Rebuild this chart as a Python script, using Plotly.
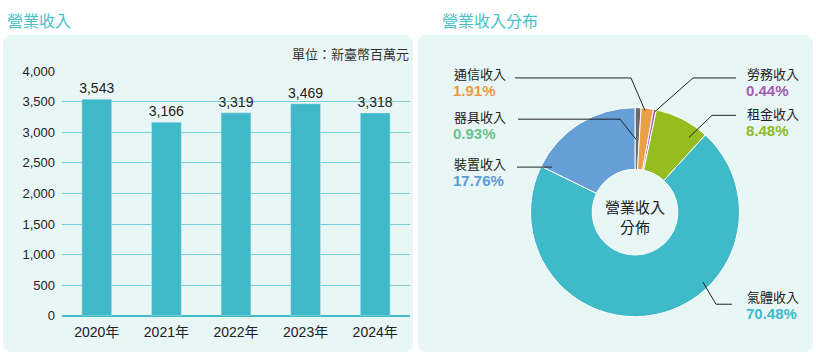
import plotly.graph_objects as go

W, H = 816, 364

# ---- data ----
years = ["2020年", "2021年", "2022年", "2023年", "2024年"]
revenue = [3543, 3166, 3319, 3469, 3318]
y_ticks = [0, 500, 1000, 1500, 2000, 2500, 3000, 3500, 4000]

seg_names = ["器具收入", "通信收入", "勞務收入", "租金收入", "氣體收入", "裝置收入"]
seg_pct = [0.93, 1.91, 0.44, 8.48, 70.48, 17.76]
seg_colors = ["#6b6b6b", "#e9a046", "#a45cb2", "#95bd1f", "#3fbac8", "#659fd5"]
pct_colors = ["#6cc18f", "#e89a40", "#a25bb0", "#8dbb1f", "#3dbcca", "#5a9ad6"]

FONT = "Liberation Sans, Noto Sans CJK TC, sans-serif"
CJK = "Noto Sans CJK TC, Liberation Sans, sans-serif"


def X(px):
    return px / W


def Y(py):
    return 1 - py / H


def rounded(x0, y0, x1, y1, r=10):
    rx, ry = r / W, r / H
    a, b, c, d = X(x0), Y(y1), X(x1), Y(y0)  # left, bottom, right, top
    return (f"M {a+rx},{d} L {c-rx},{d} Q {c},{d} {c},{d-ry} "
            f"L {c},{b+ry} Q {c},{b} {c-rx},{b} L {a+rx},{b} "
            f"Q {a},{b} {a},{b+ry} L {a},{d-ry} Q {a},{d} {a+rx},{d} Z")


fig = go.Figure()

fig.add_trace(go.Bar(
    x=years, y=revenue, marker_color="#3fb9c7", width=0.43,
    text=[f"{v:,}" for v in revenue], textposition="outside",
    constraintext="none",
    textfont=dict(size=14, color="#222", family=FONT), cliponaxis=False,
    xaxis="x", yaxis="y", showlegend=False, hoverinfo="skip",
))

fig.add_trace(go.Pie(
    labels=seg_names, values=seg_pct, sort=False, direction="clockwise",
    rotation=0, hole=0.41, textinfo="none", showlegend=False,
    marker=dict(colors=seg_colors, line=dict(color="white", width=1)),
    domain=dict(x=[X(526), X(744)], y=[Y(323), Y(105)]),
    hoverinfo="label+percent",
))

shapes = [
    dict(type="path", path=rounded(3, 29, 413, 360), xref="paper", yref="paper",
         fillcolor="#e8f6f6", line_width=0, layer="below"),
    dict(type="path", path=rounded(418, 29, 813, 360), xref="paper", yref="paper",
         fillcolor="#e8f6f6", line_width=0, layer="below"),
]

# leader lines (px polylines), one per segment label
leaders = {
    "器具收入": [(518, 117), (620, 117), (636, 138)],
    "通信收入": [(515, 74), (631, 74), (645, 108)],
    "勞務收入": [(736, 74), (693, 74), (655, 109)],
    "租金收入": [(736, 113), (712, 113), (689, 136)],
    "氣體收入": [(732, 310), (716, 310), (703, 287)],
    "裝置收入": [(517, 167), (552, 167)],
}
for name, pts in leaders.items():
    for (x0, y0), (x1, y1) in zip(pts[:-1], pts[1:]):
        shapes.append(dict(type="line", xref="paper", yref="paper",
                           x0=X(x0), y0=Y(y0), x1=X(x1), y1=Y(y1),
                           line=dict(color="#222", width=1)))

# label positions (px, name line centre)
label_pos = {
    "器具收入": (452, 114),
    "通信收入": (452, 69),
    "勞務收入": (745, 69),
    "租金收入": (745, 111),
    "氣體收入": (745, 302),
    "裝置收入": (452, 163),
}

ann = [
    dict(text="營業收入", x=X(5), y=Y(14), xref="paper", yref="paper",
         xanchor="left", yanchor="middle", showarrow=False,
         font=dict(size=16, color="#47bfc8", family=CJK)),
    dict(text="營業收入分布", x=X(440), y=Y(14), xref="paper", yref="paper",
         xanchor="left", yanchor="middle", showarrow=False,
         font=dict(size=16, color="#47bfc8", family=CJK)),
    dict(text="單位：新臺幣百萬元", x=X(411), y=Y(49), xref="paper", yref="paper",
         xanchor="right", yanchor="middle", showarrow=False,
         font=dict(size=13, color="#333", family=CJK)),
    dict(text="營業收入<br>分佈", x=X(635), y=Y(219), xref="paper", yref="paper",
         xanchor="center", yanchor="middle", showarrow=False,
         font=dict(size=15, color="#222", family=CJK)),
]
for name, pct, col in zip(seg_names, seg_pct, pct_colors):
    px, py = label_pos[name]
    ann.append(dict(text=name, x=X(px), y=Y(py), xref="paper", yref="paper",
                    xanchor="left", yanchor="middle", showarrow=False,
                    font=dict(size=13, color="#222", family=CJK)))
    ann.append(dict(text=f"<b>{pct:.2f}%</b>", x=X(px - 1), y=Y(py + 18),
                    xref="paper", yref="paper", xanchor="left", yanchor="middle",
                    showarrow=False, font=dict(size=15, color=col, family=FONT)))

fig.update_layout(
    width=W, height=H, margin=dict(l=0, r=0, t=0, b=0),
    paper_bgcolor="white", plot_bgcolor="rgba(0,0,0,0)",
    font=dict(family=FONT, color="#222"),
    shapes=shapes, annotations=ann,
    xaxis=dict(domain=[X(62), X(410)], showgrid=False, showline=False,
               ticks="", tickfont=dict(size=14, color="#222", family=FONT),
               ticklabelstandoff=6, fixedrange=True),
    yaxis=dict(domain=[Y(322), Y(67)], range=[0, 4000], tickvals=y_ticks,
               tickformat=",", showgrid=True, gridcolor="#74cfd8", gridwidth=1,
               zeroline=True, zerolinecolor="#3fbac6", zerolinewidth=2,
               showline=False, ticks="", ticklabelstandoff=6,
               tickfont=dict(size=13, color="#222", family=FONT), fixedrange=True),
    bargap=0.57,
)

fig.write_html(
    "out.html",
    config={"responsive": False, "displayModeBar": False},
    post_script=(
        "var s=document.createElement('style');"
        "s.textContent='html,body{margin:0!important;padding:0!important;"
        "overflow:hidden;width:816px;height:364px;}"
        "body>div{margin:0;padding:0;line-height:0;font-size:0;}';"
        "document.head.appendChild(s);"
    ),
)
